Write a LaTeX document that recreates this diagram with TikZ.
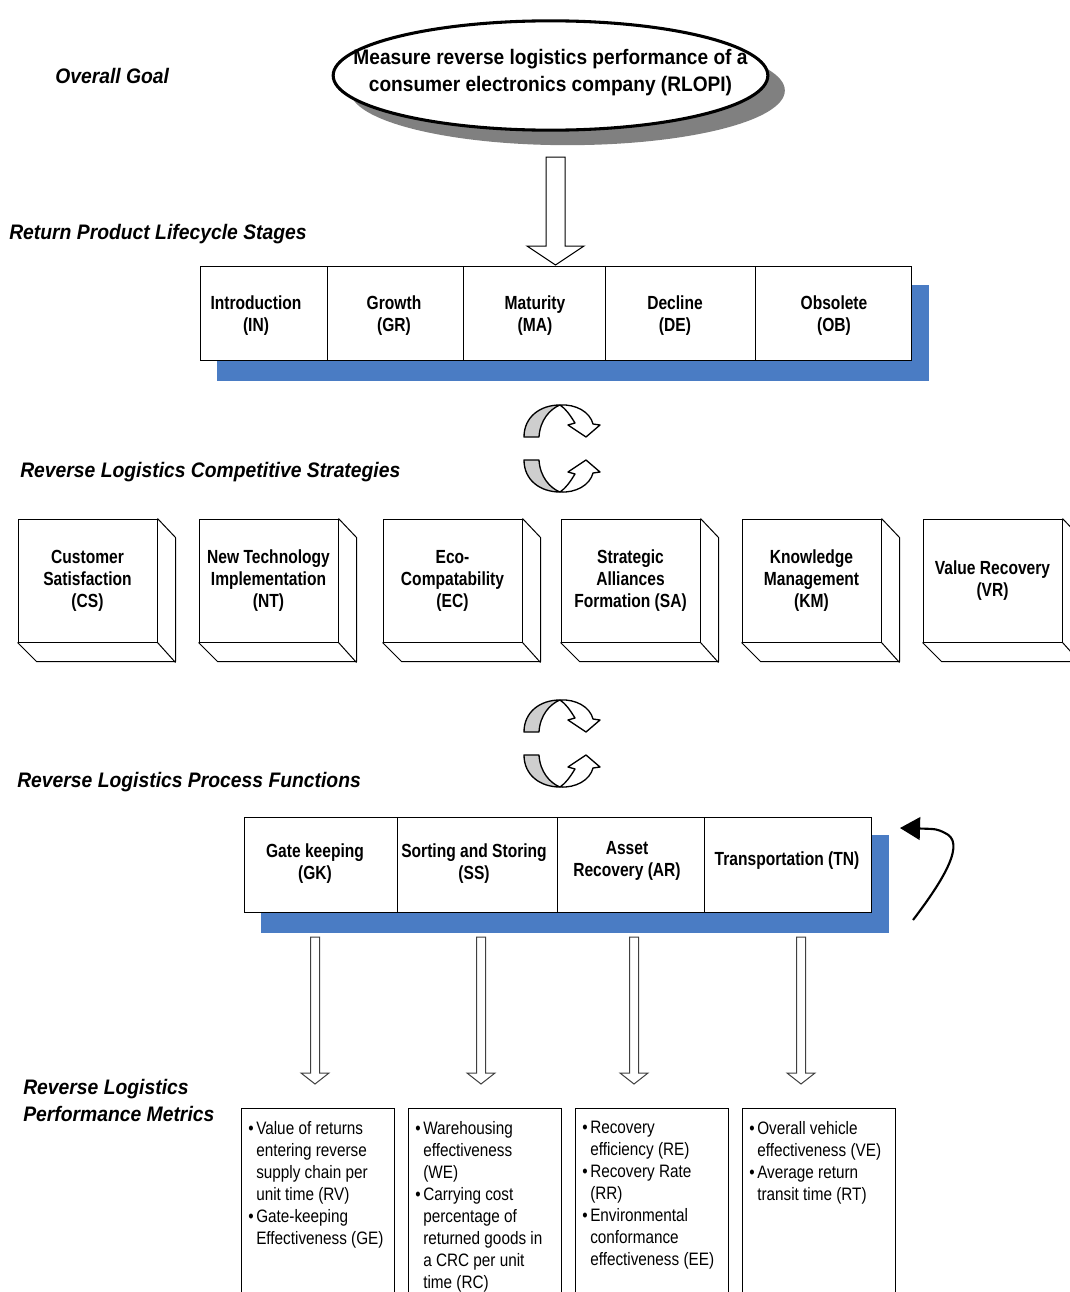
\documentclass[tikz,border=0pt]{standalone}
\usepackage{fontspec}
\setmainfont{Liberation Sans}
\newfontfamily\cellfont[FakeStretch=0.82]{Liberation Sans}
\newfontfamily\headfont[FakeStretch=0.92]{Liberation Sans}
\newfontfamily\goalfont[FakeStretch=0.91]{Liberation Sans}
\newfontfamily\metricfont[FakeStretch=0.85]{Liberation Sans}
\usetikzlibrary{shapes.geometric,arrows.meta,calc}
\definecolor{shadowblue}{RGB}{74,124,196}
\definecolor{ribbongray}{RGB}{206,206,206}
\newcommand\bitem{\makebox[6pt][l]{\textbullet}}
\newcommand\bcont{\hspace*{6pt}}
% a twisted ribbon arrow, foot line at the local origin, pointing down-right
\newcommand\ribbonarrow{%
  \filldraw[fill=ribbongray, line width=1pt, line join=round]
    (-38,0) .. controls (-38,-20) and (-22,-32) .. (-2,-32)
    .. controls (-12,-28) and (-22,-17) .. (-23,0) -- cycle;
  \filldraw[fill=white, line width=1pt, line join=round]
    (-2,-32) .. controls (14,-33) and (28,-25) .. (31,-13)
    -- (38,-12) -- (24,0) -- (6,-12) -- (13,-14)
    .. controls (8,-22) and (4,-28) .. (-2,-32) -- cycle;}
\begin{document}
\begin{tikzpicture}[x=0.75pt,y=-0.75pt,
  heading/.style={inner sep=0, anchor=west, align=left,
    font=\headfont\bfseries\itshape\fontsize{15.75pt}{20.25pt}\selectfont},
  cellbox/.style={draw, fill=white, line width=0.75pt, inner sep=0},
  celltext/.style={inner sep=0, align=center,
    font=\cellfont\bfseries\fontsize{14.25pt}{16.5pt}\selectfont},
  stratbox/.style={cellbox, celltext, minimum width=104.25pt, minimum height=92.25pt},
  metricbox/.style={draw, line width=0.75pt, inner sep=0, minimum width=114.75pt,
    minimum height=165pt, anchor=north west},
  metrictext/.style={inner sep=0, anchor=north west, align=left,
    font=\metricfont\fontsize{13.5pt}{16.5pt}\selectfont},
  blockarrow/.style={draw=black!75, fill=white, line width=0.75pt}]
\useasboundingbox (0,0) rectangle (1070,1292);
\clip (0,0) rectangle (1070,1292);
\fill[white] (0,0) rectangle (1070,1292);

% ---------- section headings ----------
\node[heading] (hgoal) at (55,76) {Overall Goal};
\node[heading] (hstage) at (9,234) {Return Product Lifecycle Stages};
\node[heading] (hstrat) at (20,472) {Reverse Logistics Competitive Strategies};
\node[heading] (hproc) at (17,782) {Reverse Logistics Process Functions};
\node[heading] (hmetric) at (23,1100) {Reverse Logistics\\Performance Metrics};

% ---------- overall goal ----------
\node[ellipse, fill=black!50, inner sep=0, minimum width=326pt, minimum height=82pt]
  (goalshadow) at (567.5,90.5) {};
\node[ellipse, draw, line width=2.3pt, fill=white, inner sep=0,
  minimum width=326pt, minimum height=82pt] (goal) at (550.5,75.5) {};
\node[inner sep=0, align=center,
  font=\goalfont\bfseries\fontsize{15.75pt}{20.25pt}\selectfont]
  (goaltext) at (550.5,72.5)
  {Measure reverse logistics performance of a\\consumer electronics company (RLOPI)};

% block arrow from goal down to the lifecycle stages
\draw[blockarrow, draw=black] (546,157) -- (565,157) -- (565,246) -- (584,246)
  -- (555.5,265) -- (527,246) -- (546,246) -- cycle;

% ---------- lifecycle stages ----------
\fill[shadowblue] (217,285) rectangle (929,381);
\foreach \l/\r/\n/\lx/\t in {200/327/stgIN/256/{Introduction\\(IN)},
                             327/463/stgGR/394/{Growth\\(GR)},
                             463/605/stgMA/535/{Maturity\\(MA)},
                             605/755/stgDE/675/{Decline\\(DE)},
                             755/911/stgOB/834/{Obsolete\\(OB)}}
{
  \node[cellbox, minimum width={(\r-\l)*0.75pt}, minimum height=70.5pt]
    (\n) at ({(\l+\r)/2},313) {};
  \node[celltext] (\n lbl) at (\lx,316) {\t};
}

% ---------- ribbon arrows between the levels ----------
\begin{scope}[shift={(562,437)}]
  \ribbonarrow
\end{scope}
\begin{scope}[shift={(562,460)}, yscale=-1]
  \ribbonarrow
\end{scope}
\begin{scope}[shift={(562,732)}]
  \ribbonarrow
\end{scope}
\begin{scope}[shift={(562,755)}, yscale=-1]
  \ribbonarrow
\end{scope}

% ---------- competitive strategies (extruded boxes) ----------
\foreach \x/\n/\t in {18/stCS/{Customer\\Satisfaction\\(CS)},
                      199/stNT/{New Technology\\Implementation\\(NT)},
                      383/stEC/{Eco-\\Compatability\\(EC)},
                      561/stSA/{Strategic\\Alliances\\Formation (SA)},
                      742/stKM/{Knowledge\\Management\\(KM)},
                      923/stVR/{Value Recovery\\(VR)}}
{
  \node[stratbox] (\n) at ({\x+69.5},580.5) {\t};
  \draw[line width=0.75pt, line join=round]
    (\n.north east) -- ++(18,19) -- ++(0,124) -- ++(-139,0) -- (\n.south west);
  \draw[line width=0.75pt] (\n.south east) -- ++(18,20);
}

% ---------- process functions ----------
\fill[shadowblue] (261,835) rectangle (889,933);
\foreach \l/\r/\n/\lx/\ly/\t in {244/397/pfGK/315/864/{Gate keeping\\(GK)},
                                 397/557/pfSS/474/864/{Sorting and Storing\\(SS)},
                                 557/704/pfAR/627/861/{Asset\\Recovery (AR)},
                                 704/871/pfTN/787/860.5/{Transportation (TN)}}
{
  \node[cellbox, minimum width={(\r-\l)*0.75pt}, minimum height=71.25pt]
    (\n) at ({(\l+\r)/2},864.5) {};
  \node[celltext] (\n lbl) at (\lx,\ly) {\t};
}

% feedback arrow beside the process functions
\coordinate (loopstart) at (913,920);
\coordinate (loopend) at (900,828);
\draw[line width=1.6pt, -{Triangle[length=15pt,width=17pt]}]
  (loopstart) .. controls (945,878) and (966,842) .. (945,833)
  .. controls (937,829) .. (loopend);

% ---------- block arrows down to the metrics ----------
\foreach \c in {315,481,634,801}
  \draw[blockarrow] ({\c-4.5},937) -- ({\c+4.5},937) -- ({\c+4.5},1073)
    -- ({\c+14},1073) -- (\c,1084) -- ({\c-14},1073) -- ({\c-4.5},1073) -- cycle;

% ---------- performance metrics ----------
\node[metricbox] (mbGK) at (241,1108) {};
\node[metricbox] (mbSS) at (408,1108) {};
\node[metricbox] (mbAR) at (575,1108) {};
\node[metricbox] (mbTN) at (742,1108) {};

\node[metrictext] (mtGK) at (248,1121)
  {\bitem Value of returns\\ \bcont entering reverse\\ \bcont supply chain per\\
   \bcont unit time (RV)\\ \bitem Gate-keeping\\ \bcont Effectiveness (GE)};
\node[metrictext] (mtSS) at (415,1121)
  {\bitem Warehousing\\ \bcont effectiveness\\ \bcont (WE)\\ \bitem Carrying cost\\
   \bcont percentage of\\ \bcont returned goods in\\ \bcont a CRC per unit\\
   \bcont time (RC)};
\node[metrictext] (mtAR) at (582,1121)
  {\bitem Recovery\\ \bcont efficiency (RE)\\ \bitem Recovery Rate\\ \bcont (RR)\\
   \bitem Environmental\\ \bcont conformance\\ \bcont effectiveness (EE)};
\node[metrictext] (mtTN) at (749,1121)
  {\bitem Overall vehicle\\ \bcont effectiveness (VE)\\ \bitem Average return\\
   \bcont transit time (RT)};
\end{tikzpicture}
\end{document}
